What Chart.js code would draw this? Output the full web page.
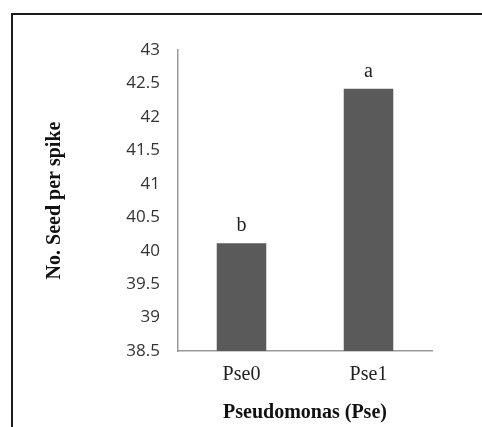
<!DOCTYPE html>
<html>
<head>
<meta charset="utf-8">
<script src="https://cdn.jsdelivr.net/npm/chart.js@4/dist/chart.umd.min.js"></script>
<style>
  body { margin: 0; background: #fff; overflow: hidden; }
  #wrap { position: relative; width: 482px; height: 427px; }
  #frame {
    position: absolute; left: 11px; top: 13px; width: 480px; height: 430px;
    border-top: 2px solid #1a1a1a; border-left: 2px solid #1a1a1a;
  }
  canvas { position: absolute; left: 0; top: 0; }
</style>
</head>
<body>
<div id="wrap">
  <div id="frame"></div>
  <canvas id="chart" width="482" height="427"></canvas>
</div>
<script>
// Número de semillas por espiga según tratamiento con Pseudomonas
const categories = ['Pse0', 'Pse1'];
const seedValues = [40.11, 42.42];
const sigLetters = ['b', 'a'];
const yTicks = [38.5, 39, 39.5, 40, 40.5, 41, 41.5, 42, 42.5, 43];

// Letras de significancia encima de cada barra
const letrasPlugin = {
    id: 'letras',
    afterDatasetsDraw(chart) {
        const ctx = chart.ctx;
        const meta = chart.getDatasetMeta(0);
        ctx.save();
        ctx.font = '20px "Liberation Serif", "Times New Roman", serif';
        ctx.fillStyle = '#222';
        ctx.textAlign = 'center';
        ctx.textBaseline = 'alphabetic';
        meta.data.forEach((bar, i) => {
            ctx.fillText(sigLetters[i], bar.x, bar.y - 12);
        });
        ctx.restore();
    }
};

const ctx = document.getElementById('chart').getContext('2d');
const chart = new Chart(ctx, {
    type: 'bar',
    data: {
        labels: categories,
        datasets: [{
            data: seedValues,
            backgroundColor: '#5a5a5a',
            borderWidth: 0,
            barPercentage: 1,
            categoryPercentage: 0.39
        }]
    },
    options: {
        responsive: false,
        animation: false,
        layout: { padding: { top: 50, right: 50, left: 0, bottom: 0 } },
        plugins: {
            legend: { display: false },
            tooltip: { enabled: false }
        },
        scales: {
            x: {
                grid: { display: false, drawTicks: false },
                border: { display: true, color: '#9a9a9a', width: 1.5 },
                ticks: {
                    padding: 12,
                    color: '#222',
                    font: { family: '"Liberation Serif", "Times New Roman", serif', size: 20 }
                },
                title: {
                    display: true,
                    text: 'Pseudomonas (Pse)',
                    color: '#111',
                    padding: { top: 0, bottom: 2 },
                    font: { family: '"Liberation Serif", "Times New Roman", serif', size: 20, weight: 'bold' }
                },
                afterFit(scale) { scale.height = 76; }
            },
            y: {
                min: yTicks[0],
                max: yTicks[yTicks.length - 1],
                grid: { display: false, drawTicks: false },
                border: { display: true, color: '#9a9a9a', width: 1.5 },
                afterBuildTicks(scale) {
                    scale.ticks = yTicks.map(v => ({ value: v }));
                },
                ticks: {
                    padding: 18,
                    color: '#333',
                    font: { family: '"Open Sans", sans-serif', size: 17 },
                    callback: value => String(value)
                },
                title: {
                    display: true,
                    text: 'No. Seed per spike',
                    color: '#111',
                    padding: { top: 43, bottom: 0 },
                    font: { family: '"Liberation Serif", "Times New Roman", serif', size: 20, weight: 'bold' }
                },
                afterFit(scale) { scale.width = 178; }
            }
        }
    },
    plugins: [letrasPlugin]
});
</script>
</body>
</html>
